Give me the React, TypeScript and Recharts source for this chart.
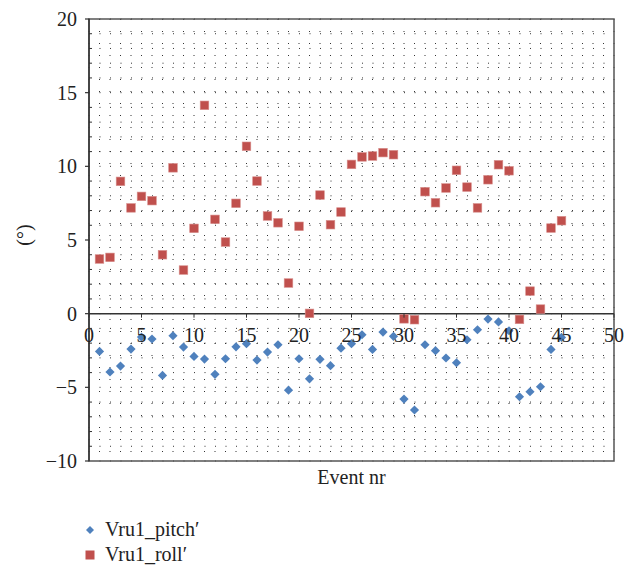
import React from 'react';
import {
  ScatterChart,
  Scatter,
  XAxis,
  YAxis,
  CartesianGrid,
  ReferenceLine,
  ReferenceArea,
  Legend,
} from 'recharts';

const events = [
  1, 2, 3, 4, 5, 6, 7, 8, 9, 10, 11, 12, 13, 14, 15, 16, 17, 18, 19, 20, 21, 22, 23,
  24, 25, 26, 27, 28, 29, 30, 31, 32, 33, 34, 35, 36, 37, 38, 39, 40, 41, 42, 43, 44, 45,
];

const pitch = [
  -2.56, -3.96, -3.56, -2.4, -1.59, -1.72, -4.19, -1.5, -2.27, -2.9, -3.08, -4.12, -3.06,
  -2.25, -2.04, -3.15, -2.61, -2.11, -5.19, -3.06, -4.42, -3.1, -3.53, -2.34, -2.04, -1.43,
  -2.43, -1.25, -1.54, -5.8, -6.54, -2.11, -2.51, -3.01, -3.33, -1.77, -1.09, -0.37, -0.56,
  -1.16, -5.64, -5.3, -4.96, -2.43, -1.61,
];

const roll = [
  3.71, 3.82, 8.98, 7.18, 7.96, 7.67, 4.0, 9.9, 2.96, 5.79, 14.14, 6.4, 4.86, 7.49, 11.36,
  9.0, 6.63, 6.17, 2.08, 5.93, 0.02, 8.05, 6.04, 6.9, 10.13, 10.64, 10.7, 10.93, 10.79, -0.35,
  -0.41, 8.28, 7.53, 8.53, 9.73, 8.59, 7.18, 9.09, 10.11, 9.7, -0.39, 1.53, 0.31, 5.81, 6.31,
];

const xTickLabels = [0, 5, 10, 15, 20, 25, 30, 35, 40, 45, 50];
const yTickLabels = [-10, -5, 0, 5, 10, 15, 20];

const seriesNames = ['Vru1_pitch\u2032', 'Vru1_roll\u2032'];
const xTitle = 'Event nr';
const yTitle = '(\u00b0)';

const X_MIN = 0;
const X_MAX = 50;
const Y_MIN = -10;
const Y_MAX = 20;

const xGridTicks = Array.from({ length: X_MAX - X_MIN + 1 }, (_, i) => X_MIN + i);
const yGridTicks = Array.from({ length: Y_MAX - Y_MIN + 1 }, (_, i) => Y_MIN + i);

const pitchData = events.map((e, i) => ({ x: e, y: pitch[i] }));
const rollData = events.map((e, i) => ({ x: e, y: roll[i] }));

const W = 636;
const H = 567;
const MARGIN = { top: 19, right: 22, left: 0, bottom: 0 };
const Y_AXIS_W = 89;
const X_AXIS_H = 106;
const PLOT_H = H - MARGIN.top - MARGIN.bottom - X_AXIS_H;

const FONT = 'Liberation Serif, Times New Roman, DejaVu Serif, serif';
const FS = 20;
const BLUE = '#4F81BD';
const RED = '#C0504D';
const AXIS = '#333';

const textStyle = { fontFamily: FONT, fontSize: FS };

const XTick = (props: any) => {
  const { x, y, payload } = props;
  const v = payload.value;
  if (!xTickLabels.includes(v)) return <g />;
  const zeroY = y - (PLOT_H * (0 - Y_MIN)) / (Y_MAX - Y_MIN);
  return (
    <g>
      <line x1={x} x2={x} y1={zeroY} y2={zeroY + 4} stroke={AXIS} strokeWidth={1} />
      <text x={x} y={zeroY + 28} textAnchor="middle" style={textStyle} fill="#222">
        {v}
      </text>
    </g>
  );
};

const YTick = (props: any) => {
  const { x, y, payload } = props;
  const v = payload.value;
  const isMajor = yTickLabels.includes(v);
  return (
    <g>
      {isMajor ? (
        <>
          <line x1={x - 4} x2={x} y1={y} y2={y} stroke={AXIS} strokeWidth={1.2} />
          <text x={x - 12} y={y + 7} textAnchor="end" style={textStyle} fill="#222">
            {v === 0 ? '0' : v < 0 ? `\u2212${Math.abs(v)}` : v}
          </text>
        </>
      ) : (
        <line x1={x} x2={x + 3} y1={y} y2={y} stroke={AXIS} strokeWidth={1} />
      )}
    </g>
  );
};

const DiamondShape = (props: any) => {
  const { cx, cy, fill } = props;
  const r = 4.6;
  return <path d={`M${cx} ${cy - r} L${cx + r} ${cy} L${cx} ${cy + r} L${cx - r} ${cy} Z`} fill={fill} />;
};

const SquareShape = (props: any) => {
  const { cx, cy, fill } = props;
  const s = 8.6;
  return <rect x={cx - s / 2} y={cy - s / 2} width={s} height={s} fill={fill} stroke="#D88F8D" strokeWidth={0.6} />;
};

const renderLegend = (props: any) => {
  const payload = props.payload || [];
  return (
    <div style={{ fontFamily: FONT, fontSize: FS, color: '#222' }}>
      {payload.map((entry: any, i: number) => (
        <div key={i} style={{ display: 'flex', alignItems: 'center', height: 25, whiteSpace: 'nowrap' }}>
          <svg width={14} height={14} style={{ display: 'block' }}>
            {entry.type === 'diamond' ? (
              <path d="M7 3 L11 7 L7 11 L3 7 Z" fill={entry.color} />
            ) : (
              <rect x={2.5} y={2.5} width={9} height={9} fill={entry.color} />
            )}
          </svg>
          <span style={{ marginLeft: 8 }}>{entry.value}</span>
        </div>
      ))}
    </div>
  );
};

const YLabel = (props: any) => {
  const vb = props.viewBox || { x: 0, y: 0, width: 0, height: 0 };
  const cx = vb.x + 24;
  const cy = vb.y + vb.height / 2 - 5;
  return (
    <text
      x={cx}
      y={cy}
      transform={`rotate(-90, ${cx}, ${cy})`}
      textAnchor="middle"
      dominantBaseline="central"
      style={textStyle}
      fill="#222"
    >
      {yTitle}
    </text>
  );
};

const XLabel = (props: any) => {
  const vb = props.viewBox || { x: 0, y: 0, width: 0, height: 0 };
  return (
    <text x={vb.x + vb.width / 2} y={vb.y + 23} textAnchor="middle" style={textStyle} fill="#222">
      {xTitle}
    </text>
  );
};

export default function App() {
  return (
    <div style={{ position: 'absolute', left: 0, top: 0, width: W, height: H, background: '#fff', fontFamily: FONT }}>
      <ScatterChart width={W} height={H} margin={MARGIN}>
        <CartesianGrid vertical={false} stroke="#333" strokeDasharray="1 9.5" />
        <CartesianGrid horizontal={false} stroke="#333" strokeDasharray="1 11" />
        <XAxis
          type="number"
          dataKey="x"
          domain={[X_MIN, X_MAX]}
          ticks={xGridTicks}
          interval={0}
          height={X_AXIS_H}
          tickSize={0}
          tickMargin={0}
          tickLine={false}
          axisLine={false}
          tick={<XTick />}
          label={XLabel}
          allowDataOverflow
        />
        <YAxis
          type="number"
          dataKey="y"
          domain={[Y_MIN, Y_MAX]}
          ticks={yGridTicks}
          interval={0}
          width={Y_AXIS_W}
          tickSize={0}
          tickMargin={0}
          tickLine={false}
          axisLine={{ stroke: AXIS, strokeWidth: 1.5 }}
          tick={<YTick />}
          label={YLabel}
          allowDataOverflow
        />
        <ReferenceArea
          x1={X_MIN}
          x2={X_MAX}
          y1={Y_MIN}
          y2={Y_MAX}
          fill="none"
          fillOpacity={0}
          stroke="#555"
          strokeWidth={1.5}
        />
        <ReferenceLine y={0} stroke={AXIS} strokeWidth={1.5} />
        <Legend
          layout="vertical"
          align="center"
          verticalAlign="middle"
          content={renderLegend}
          wrapperStyle={{ left: 83, top: 517, width: 300, height: 50 }}
        />
        <Scatter
          name={seriesNames[0]}
          data={pitchData}
          fill={BLUE}
          legendType="diamond"
          shape={DiamondShape}
          isAnimationActive={false}
        />
        <Scatter
          name={seriesNames[1]}
          data={rollData}
          fill={RED}
          legendType="square"
          shape={SquareShape}
          isAnimationActive={false}
        />
      </ScatterChart>
    </div>
  );
}
